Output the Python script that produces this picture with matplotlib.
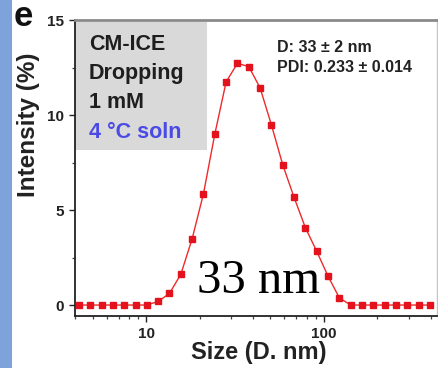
import matplotlib
matplotlib.use("Agg")
import matplotlib.pyplot as plt
from matplotlib.patches import Rectangle
from matplotlib.ticker import LogLocator, MultipleLocator, FixedLocator, NullFormatter

# DLS size distribution by intensity (hydrodynamic diameter bins, nm)
size_nm = [4.187, 4.849, 5.615, 6.503, 7.531, 8.721, 10.10, 11.70, 13.54, 15.69,
           18.17, 21.04, 24.36, 28.21, 32.67, 37.84, 43.82, 50.75, 58.77, 68.06,
           78.82, 91.28, 105.7, 122.4, 141.8, 164.2, 190.1, 220.2, 255.0, 295.3,
           342.0, 396.1]
intensity_pct = [0, 0, 0, 0, 0, 0, 0, 0.19, 0.61, 1.62,
                 3.49, 5.86, 8.99, 11.74, 12.72, 12.55, 11.43, 9.48, 7.38, 5.67,
                 4.07, 2.83, 1.52, 0.38, 0, 0, 0, 0, 0, 0,
                 0, 0]

x_ticks = [10, 100]
x_tick_labels = ["10", "100"]
y_ticks = [0, 5, 10, 15]
y_tick_labels = ["0", "5", "10", "15"]

sample_lines = ["CM-ICE", "Dropping", "1 mM"]
condition_label = "4 \u00b0C soln"
stats_lines = ["D: 33 \u00b1 2 nm", "PDI: 0.233 \u00b1 0.014"]
peak_label = "33 nm"
panel_letter = "e"

W, H = 439, 368
DPI = 100
fig = plt.figure(figsize=(W / DPI, H / DPI), dpi=DPI)
fig.patch.set_facecolor("white")


def fx(px):
    return px / W


def fy(py):
    return 1 - py / H


SANS = ["Liberation Sans", "DejaVu Sans"]

# side strip
fig.add_artist(Rectangle((0, 0), fx(12), 1, transform=fig.transFigure,
                         facecolor="#7ea2da", edgecolor="none", zorder=0))

ax_l, ax_r, ax_t, ax_b = 75, 437, 20, 315.5
ax = fig.add_axes([fx(ax_l), fy(ax_b), fx(ax_r - ax_l), (ax_b - ax_t) / H])

ax.plot(size_nm, intensity_pct, color="#ee2a2a", lw=1.0, marker="s",
        markersize=4.6, markerfacecolor="#e3121c", markeredgecolor="#e3121c",
        zorder=3, clip_on=False)

ax.set_xscale("log")
ax.set_xlim(3.98, 434)
ax.set_ylim(-0.55, 15)

ax.xaxis.set_major_locator(FixedLocator(x_ticks))
ax.set_xticklabels(x_tick_labels)
ax.xaxis.set_minor_locator(LogLocator(base=10, subs=range(2, 10)))
ax.xaxis.set_minor_formatter(NullFormatter())
ax.yaxis.set_major_locator(FixedLocator(y_ticks))
ax.set_yticklabels(y_tick_labels)
ax.yaxis.set_minor_locator(MultipleLocator(2.5))

ax.tick_params(which="major", direction="out", length=4, width=1.0,
               labelsize=11, pad=4, colors="#222222")
ax.tick_params(which="minor", direction="out", length=2.5, width=0.9,
               colors="#444444")
for lab in ax.get_xticklabels() + ax.get_yticklabels():
    lab.set_fontfamily(SANS)
    lab.set_fontweight("bold")

for side in ("left", "bottom"):
    ax.spines[side].set_color("#222222")
    ax.spines[side].set_linewidth(1.3)
ax.spines["top"].set_color("#8a8a8a")
ax.spines["top"].set_linewidth(2.0)
ax.spines["right"].set_color("#c4c4c4")
ax.spines["right"].set_linewidth(1.0)

# sample description box
box_top, box_bot, box_right = 22, 150, 207
ax.add_patch(Rectangle((0, 1 - (box_bot - ax_t) / (ax_b - ax_t)),
                       (box_right - ax_l) / (ax_r - ax_l),
                       (box_bot - box_top) / (ax_b - ax_t),
                       transform=ax.transAxes, facecolor="#d9d9d9",
                       edgecolor="none", zorder=1))

line_y = [45, 74, 103, 132]
for txt, yy in zip(sample_lines, line_y[:3]):
    fig.text(fx(89), fy(yy), txt, fontsize=15.5, fontweight="bold",
             family=SANS, color="#1e1e1e", va="center", ha="left")
fig.text(fx(89), fy(line_y[3]), condition_label, fontsize=15.5, fontweight="bold",
         family=SANS, color="#4a4ae6", va="center", ha="left")

fig.text(fx(277), fy(48), stats_lines[0], fontsize=11.5, fontweight="bold",
         family=SANS, color="#222222", va="center", ha="left")
fig.text(fx(277), fy(67), stats_lines[1], fontsize=11.5, fontweight="bold",
         family=SANS, color="#222222", va="center", ha="left")

fig.text(fx(197), fy(293), peak_label, fontsize=35,
         family=["Liberation Serif", "DejaVu Serif"], color="black",
         va="baseline", ha="left", zorder=5)

fig.text(fx(23), fy(16), panel_letter, fontsize=25, fontweight="bold",
         family=SANS, color="#111111", va="center", ha="center")

fig.text(fx(28), fy(125), "Intensity (%)", fontsize=17.5, fontweight="bold",
         family=SANS, color="#222222", va="center", ha="center", rotation=90)
fig.text(fx(259), fy(353), "Size (D. nm)", fontsize=17, fontweight="bold",
         family=SANS, color="#222222", va="center", ha="center")

fig.savefig("out.png", dpi=DPI)
